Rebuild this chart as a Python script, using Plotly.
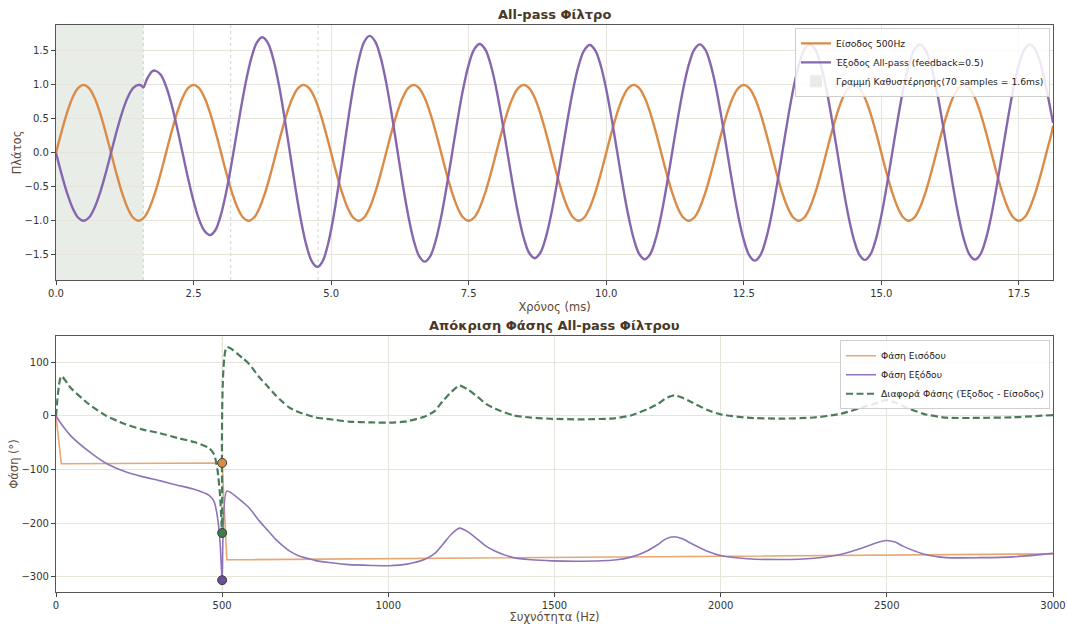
import plotly.graph_objects as go

# ---------------- data: top panel (time domain) ----------------
delay_ms = 1.587
delay_lines_ms = [1.587, 3.175, 4.762]

t_in = [
    0.0, 0.1, 0.2, 0.3, 0.4, 0.5, 0.6, 0.7, 0.8, 0.9, 1.0, 1.1, 1.2, 1.3, 1.4, 1.5, 1.6, 1.7, 1.8, 1.9,
    2.0, 2.1, 2.2, 2.3, 2.4, 2.5, 2.6, 2.7, 2.8, 2.9, 3.0, 3.1, 3.2, 3.3, 3.4, 3.5, 3.6, 3.7, 3.8, 3.9,
    4.0, 4.1, 4.2, 4.3, 4.4, 4.5, 4.6, 4.7, 4.8, 4.9, 5.0, 5.1, 5.2, 5.3, 5.4, 5.5, 5.6, 5.7, 5.8, 5.9,
    6.0, 6.1, 6.2, 6.3, 6.4, 6.5, 6.6, 6.7, 6.8, 6.9, 7.0, 7.1, 7.2, 7.3, 7.4, 7.5, 7.6, 7.7, 7.8, 7.9,
    8.0, 8.1, 8.2, 8.3, 8.4, 8.5, 8.6, 8.7, 8.8, 8.9, 9.0, 9.1, 9.2, 9.3, 9.4, 9.5, 9.6, 9.7, 9.8, 9.9,
    10.0, 10.1, 10.2, 10.3, 10.4, 10.5, 10.6, 10.7, 10.8, 10.9, 11.0, 11.1, 11.2, 11.3, 11.4, 11.5, 11.6, 11.7, 11.8, 11.9,
    12.0, 12.1, 12.2, 12.3, 12.4, 12.5, 12.6, 12.7, 12.8, 12.9, 13.0, 13.1, 13.2, 13.3, 13.4, 13.5, 13.6, 13.7, 13.8, 13.9,
    14.0, 14.1, 14.2, 14.3, 14.4, 14.5, 14.6, 14.7, 14.8, 14.9, 15.0, 15.1, 15.2, 15.3, 15.4, 15.5, 15.6, 15.7, 15.8, 15.9,
    16.0, 16.1, 16.2, 16.3, 16.4, 16.5, 16.6, 16.7, 16.8, 16.9, 17.0, 17.1, 17.2, 17.3, 17.4, 17.5, 17.6, 17.7, 17.8, 17.9,
    18.0, 18.1, 18.12,
]
y_in = [
    0.0, 0.309, 0.588, 0.809, 0.951, 1.0, 0.951, 0.809, 0.588, 0.309, 0.0, -0.309, -0.588, -0.809, -0.951, -1.0, -0.951, -0.809, -0.588, -0.309,
    0.0, 0.309, 0.588, 0.809, 0.951, 1.0, 0.951, 0.809, 0.588, 0.309, 0.0, -0.309, -0.588, -0.809, -0.951, -1.0, -0.951, -0.809, -0.588, -0.309,
    0.0, 0.309, 0.588, 0.809, 0.951, 1.0, 0.951, 0.809, 0.588, 0.309, 0.0, -0.309, -0.588, -0.809, -0.951, -1.0, -0.951, -0.809, -0.588, -0.309,
    0.0, 0.309, 0.588, 0.809, 0.951, 1.0, 0.951, 0.809, 0.588, 0.309, 0.0, -0.309, -0.588, -0.809, -0.951, -1.0, -0.951, -0.809, -0.588, -0.309,
    0.0, 0.309, 0.588, 0.809, 0.951, 1.0, 0.951, 0.809, 0.588, 0.309, 0.0, -0.309, -0.588, -0.809, -0.951, -1.0, -0.951, -0.809, -0.588, -0.309,
    0.0, 0.309, 0.588, 0.809, 0.951, 1.0, 0.951, 0.809, 0.588, 0.309, 0.0, -0.309, -0.588, -0.809, -0.951, -1.0, -0.951, -0.809, -0.588, -0.309,
    0.0, 0.309, 0.588, 0.809, 0.951, 1.0, 0.951, 0.809, 0.588, 0.309, 0.0, -0.309, -0.588, -0.809, -0.951, -1.0, -0.951, -0.809, -0.588, -0.309,
    0.0, 0.309, 0.588, 0.809, 0.951, 1.0, 0.951, 0.809, 0.588, 0.309, 0.0, -0.309, -0.588, -0.809, -0.951, -1.0, -0.951, -0.809, -0.588, -0.309,
    0.0, 0.309, 0.588, 0.809, 0.951, 1.0, 0.951, 0.809, 0.588, 0.309, 0.0, -0.309, -0.588, -0.809, -0.951, -1.0, -0.951, -0.809, -0.588, -0.309,
    0.0, 0.309, 0.40,
]

t_out = [
    0.0, 0.1, 0.2, 0.3, 0.4, 0.5, 0.6, 0.7, 0.8, 0.9, 1.0, 1.1, 1.2, 1.3, 1.4, 1.5, 1.55, 1.587, 1.65, 1.7, 1.75, 1.8,
    1.9, 2.0, 2.1, 2.2, 2.3, 2.4, 2.5, 2.6, 2.7, 2.8,
    2.895, 2.99, 3.085, 3.18, 3.275, 3.37, 3.465, 3.56, 3.655, 3.75,
    3.85, 3.95, 4.05, 4.15, 4.25, 4.35, 4.45, 4.55, 4.65, 4.75,
    4.845, 4.94, 5.035, 5.13, 5.225, 5.32, 5.415, 5.51, 5.605, 5.7,
    5.8, 5.9, 6.0, 6.1, 6.2, 6.3, 6.4, 6.5, 6.6, 6.7,
    6.8, 6.9, 7.0, 7.1, 7.2, 7.3, 7.4, 7.5, 7.6, 7.7,
    7.8, 7.9, 8.0, 8.1, 8.2, 8.3, 8.4, 8.5, 8.6, 8.7,
    8.8, 8.9, 9.0, 9.1, 9.2, 9.3, 9.4, 9.5, 9.6, 9.7,
    9.8, 9.9, 10.0, 10.1, 10.2, 10.3, 10.4, 10.5, 10.6, 10.7,
    10.8, 10.9, 11.0, 11.1, 11.2, 11.3, 11.4, 11.5, 11.6, 11.7,
    11.8, 11.9, 12.0, 12.1, 12.2, 12.3, 12.4, 12.5, 12.6, 12.7,
    12.8, 12.9, 13.0, 13.1, 13.2, 13.3, 13.4, 13.5, 13.6, 13.7,
    13.8, 13.9, 14.0, 14.1, 14.2, 14.3, 14.4, 14.5, 14.6, 14.7,
    14.8, 14.9, 15.0, 15.1, 15.2, 15.3, 15.4, 15.5, 15.6, 15.7,
    15.8, 15.9, 16.0, 16.1, 16.2, 16.3, 16.4, 16.5, 16.6, 16.7,
    16.8, 16.9, 17.0, 17.1, 17.2, 17.3, 17.4, 17.5, 17.6, 17.7,
    17.8, 17.9, 18.0, 18.1, 18.12,
]
y_out = [
    0.0, -0.309, -0.588, -0.809, -0.951, -1.0, -0.951, -0.809, -0.588, -0.309, 0.0, 0.309, 0.588, 0.809, 0.951, 1.0, 0.988, 0.96, 1.08, 1.15, 1.2, 1.21,
    1.151, 0.979, 0.711, 0.374, 0.0, -0.374, -0.711, -0.979, -1.151, -1.21,
    -1.139, -0.932, -0.611, -0.205, 0.245, 0.695, 1.101, 1.422, 1.629, 1.70,
    1.617, 1.377, 1.004, 0.532, 0.01, -0.512, -0.984, -1.357, -1.597, -1.68,
    -1.597, -1.355, -0.98, -0.505, 0.02, 0.545, 1.02, 1.395, 1.637, 1.72,
    1.639, 1.403, 1.036, 0.573, 0.06, -0.453, -0.916, -1.283, -1.519, -1.60,
    -1.522, -1.294, -0.941, -0.494, 0.0, 0.494, 0.941, 1.294, 1.522, 1.60,
    1.523, 1.299, 0.951, 0.512, 0.025, -0.462, -0.901, -1.249, -1.473, -1.55,
    -1.473, -1.251, -0.904, -0.467, 0.018, 0.502, 0.939, 1.286, 1.508, 1.585,
    1.508, 1.284, 0.936, 0.497, 0.01, -0.477, -0.916, -1.264, -1.488, -1.565,
    -1.488, -1.263, -0.914, -0.473, 0.015, 0.503, 0.944, 1.293, 1.518, 1.595,
    1.517, 1.291, 0.94, 0.496, 0.005, -0.486, -0.93, -1.281, -1.507, -1.585,
    -1.507, -1.281, -0.93, -0.486, 0.005, 0.496, 0.94, 1.291, 1.517, 1.595,
    1.517, 1.292, 0.942, 0.5, 0.01, -0.48, -0.922, -1.272, -1.497, -1.575,
    -1.497, -1.272, -0.922, -0.48, 0.01, 0.5, 0.942, 1.292, 1.517, 1.595,
    1.517, 1.293, 0.943, 0.501, 0.013, -0.476, -0.918, -1.268, -1.492, -1.57,
    -1.492, -1.268, -0.918, -0.476, 0.013, 0.501, 0.943, 1.293, 1.517, 1.595,
    1.517, 1.293, 0.943, 0.53, 0.44,
]

# ---------------- data: bottom panel (phase response) ----------------
freqs_in = [0, 16, 500, 514, 3000]
phase_in = [0, -89, -87.5, -268, -257]

freqs = [0, 16, 46, 99, 152, 205, 259, 312, 365, 418, 461, 476, 486, 494, 500, 514,
         561, 581, 611, 631, 661, 681, 701, 731, 761, 781, 822, 881, 950, 1003, 1056,
         1110, 1140, 1163, 1190, 1214, 1240, 1269, 1295, 1322, 1376, 1430, 1493, 1580,
         1680, 1730, 1780, 1810, 1835, 1860, 1885, 1910, 1960, 2000, 2080, 2180, 2280,
         2360, 2430, 2465, 2498, 2525, 2550, 2610, 2680, 2780, 2880, 3000]
phase_out = [0, -15, -38, -66, -88.7, -103, -113, -120.5, -129, -137, -148, -160, -189, -238, -306, -140,
             -160, -171, -195, -209, -230, -241, -251, -261, -266, -269.5, -273, -277, -278.5, -279, -276,
             -267, -256, -240, -220, -209, -216, -230, -243, -252, -264, -268, -270, -270.7,
             -268.5, -263, -251, -240, -229, -225, -229, -237, -252, -260, -266, -267.5, -265,
             -258, -245, -237, -232, -235, -243, -257, -264, -264, -262.5, -256]
phase_diff = [0, 74, 51, 22, 0, -14.5, -25, -32, -41, -49, -60, -72, -101, -150, -218, 128,
              108, 97, 72.6, 59, 38.4, 26.6, 16, 7, 1, -2.7, -6, -10.5, -12, -12.5, -10,
              -1, 9.5, 27, 45, 56.6, 49, 35.4, 22, 13.3, 1.1, -3, -5.3, -6.3,
              -4.4, 0.9, 12.8, 22, 33, 38.5, 34, 26.3, 11.2, 3, -3.2, -5, -2.9,
              3.9, 16.6, 23, 29.4, 25, 18.2, 4, -3.2, -3.6, -2.4, 1.7]
marker_freq = 500

# ---------------- styling ----------------
C_ORANGE = "#dc8b47"
C_PURPLE = "#8667ad"
C_ORANGE_L = "#e8a772"
C_PURPLE_L = "#8e74b8"
C_GREEN = "#4a7c59"
GRID = "#e7e4dc"
AXLINE = "#555555"
TITLE_C = "#4a3826"
LABEL_C = "#5c4a36"
FONT = "DejaVu Sans"

fig = go.Figure()

fig.add_trace(go.Scatter(x=t_in, y=y_in, mode="lines", name="Είσοδος 500Hz",
                         line=dict(color=C_ORANGE, width=2.4, shape="spline", smoothing=1.0),
                         xaxis="x", yaxis="y", legend="legend"))
fig.add_trace(go.Scatter(x=t_out, y=y_out, mode="lines", name="Έξοδος All-pass (feedback=0.5)",
                         line=dict(color=C_PURPLE, width=2.4, shape="spline", smoothing=1.0),
                         xaxis="x", yaxis="y", legend="legend"))

fig.add_trace(go.Scatter(x=freqs_in, y=phase_in, mode="lines", name="Φάση Εισόδου",
                         line=dict(color=C_ORANGE_L, width=1.6), xaxis="x2", yaxis="y2", legend="legend2"))
fig.add_trace(go.Scatter(x=freqs, y=phase_out, mode="lines", name="Φάση Εξόδου",
                         line=dict(color=C_PURPLE_L, width=1.6, shape="spline", smoothing=0.6),
                         xaxis="x2", yaxis="y2", legend="legend2"))
fig.add_trace(go.Scatter(x=freqs, y=phase_diff, mode="lines", name="Διαφορά Φάσης (Έξοδος - Είσοδος)",
                         line=dict(color=C_GREEN, width=2.2, dash="7px,3.5px", shape="spline", smoothing=0.6),
                         xaxis="x2", yaxis="y2", legend="legend2"))

mi = freqs.index(marker_freq)
mi_in = freqs_in.index(marker_freq)
for xs, series, idx, col in [(freqs_in, phase_in, mi_in, "#d98a45"),
                             (freqs, phase_diff, mi, "#3f7a4f"),
                             (freqs, phase_out, mi, "#6c4f98")]:
    fig.add_trace(go.Scatter(x=[xs[idx]], y=[series[idx]], mode="markers", showlegend=False,
                             marker=dict(size=9, color=col, line=dict(color="#3a3a3a", width=1)),
                             xaxis="x2", yaxis="y2"))

shapes = [
    dict(type="rect", xref="x", yref="y domain", x0=0, x1=delay_ms, y0=0, y1=1,
         fillcolor="rgba(150,172,150,0.22)", line=dict(width=0), layer="below",
         showlegend=True, legend="legend", name="Γραμμή Καθυστέρησης(70 samples = 1.6ms)"),
]
for xv in delay_lines_ms:
    shapes.append(dict(type="line", xref="x", yref="y domain", x0=xv, x1=xv, y0=0, y1=1,
                       line=dict(color="#d2d2d2", width=1, dash="dot"), layer="below"))
shapes.append(dict(type="line", xref="x2", yref="y2 domain", x0=marker_freq, x1=marker_freq, y0=0, y1=1,
                   line=dict(color="#d2d2d2", width=1, dash="dot"), layer="below"))

axis_common = dict(showgrid=True, gridcolor=GRID, gridwidth=1, zeroline=False,
                   showline=True, linecolor=AXLINE, linewidth=1.2, mirror=True,
                   ticks="outside", ticklen=4, tickcolor="#444", tickwidth=1, automargin=False,
                   tickfont=dict(family=FONT, size=10, color="#333"))

top_dom = [0.5503, 1.0]
bot_dom = [0.0, 0.4515]

fig.update_layout(
    width=1067, height=624,
    margin=dict(l=56, r=14, t=25, b=32),
    paper_bgcolor="white", plot_bgcolor="white",
    font=dict(family=FONT, size=10, color="#333"),
    shapes=shapes,
    xaxis=dict(axis_common, domain=[0, 1], anchor="y", range=[0, 18.12], dtick=2.5, tick0=0,
               tickformat=".1f", ticklabeloverflow="allow",
               title=dict(text="Χρόνος (ms)", font=dict(family=FONT, size=11.5, color=LABEL_C), standoff=4)),
    yaxis=dict(axis_common, domain=top_dom, anchor="x", range=[-1.87, 1.88], dtick=0.5, tick0=0,
               tickformat=".1f",
               title=dict(text="Πλάτος", font=dict(family=FONT, size=11.5, color=LABEL_C), standoff=0)),
    xaxis2=dict(axis_common, domain=[0, 1], anchor="y2", range=[0, 3000], dtick=500, tick0=0,
                ticklabeloverflow="allow",
                title=dict(text="Συχνότητα (Hz)", font=dict(family=FONT, size=11.5, color=LABEL_C), standoff=4)),
    yaxis2=dict(axis_common, domain=bot_dom, anchor="x2", range=[-328, 149], dtick=100, tick0=0,
                title=dict(text="Φάση (°)", font=dict(family=FONT, size=11.5, color=LABEL_C), standoff=0)),
    legend=dict(x=0.997, y=0.995, xanchor="right", yanchor="top",
                bgcolor="rgba(255,255,255,0.85)", bordercolor="#cfcfcf", borderwidth=1,
                font=dict(family=FONT, size=9.2, color="#222"), tracegroupgap=0, itemwidth=30),
    legend2=dict(x=0.997, y=0.444, xanchor="right", yanchor="top",
                 bgcolor="rgba(255,255,255,0.85)", bordercolor="#cfcfcf", borderwidth=1,
                 font=dict(family=FONT, size=9.2, color="#222"), tracegroupgap=0, itemwidth=30),
    annotations=[
        dict(text="<b>All-pass Φίλτρο</b>", xref="paper", yref="paper", x=0.5, y=1.0,
             yshift=1, xanchor="center", yanchor="bottom", showarrow=False,
             font=dict(family=FONT, size=13, color=TITLE_C)),
        dict(text="<b>Απόκριση Φάσης All-pass Φίλτρου</b>", xref="paper", yref="paper", x=0.5,
             y=bot_dom[1], yshift=1, xanchor="center", yanchor="bottom", showarrow=False,
             font=dict(family=FONT, size=13, color=TITLE_C)),
    ],
)

fig.write_html("out.html")
